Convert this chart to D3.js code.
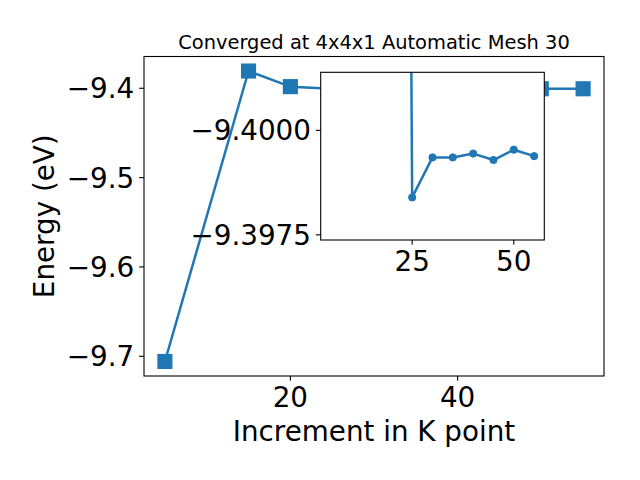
<!DOCTYPE html>
<html>
<head>
<meta charset="utf-8">
<script src="https://cdn.jsdelivr.net/npm/d3@7"></script>
<style>
  html, body { margin: 0; padding: 0; background: #fff; }
  svg { display: block; font-family: "DejaVu Sans", sans-serif; }
</style>
</head>
<body>
<svg id="chart" width="640" height="480"></svg>
<script>
// ---- data ----
const kPoints = [5, 15, 20, 25, 30, 35, 40, 45, 50, 55];
const energies = [-9.7058, -9.3807, -9.3982, -9.400617, -9.400586, -9.400586, -9.400583, -9.400588, -9.400580, -9.400585];
const insetKPoints = [20, 25, 30, 35, 40, 45, 50, 55];
const insetEnergies = [-9.3982, -9.400617, -9.400586, -9.400586, -9.400583, -9.400588, -9.400580, -9.400585];
const mainXTicks = [20, 40];
const mainYTicks = [-9.4, -9.5, -9.6, -9.7];
const insetXTicks = [25, 50];
const insetYDomain = [-9.40065, -9.40052];
const insetYTicks = [-9.400565, -9.400646];
const insetYTickLabels = ["\u22129.4000", "\u22129.3975"];
const titleText = "Converged at 4x4x1 Automatic Mesh 30";
const xLabelText = "Increment in K point";
const yLabelText = "Energy (eV)";

// ---- layout ----
const color = "#1f77b4";
const main = { left: 144, right: 604, top: 56.5, bottom: 376 };
const inset = { left: 320.7, right: 544.3, top: 72.3, bottom: 240 };
const tickLen = 4.86, tickPad = 4.86;
const tickFont = 27.8;
const lw = 2.5;

const svg = d3.select("#chart");
const data = kPoints.map((k, i) => ({ k, e: energies[i] }));
const insetData = insetKPoints.map((k, i) => ({ k, e: insetEnergies[i] }));

function padded(ext) {
  const m = (ext[1] - ext[0]) * 0.05;
  return [ext[0] - m, ext[1] + m];
}
const xDomain = padded(d3.extent(kPoints));
const yDomain = padded(d3.extent(energies));

const x = d3.scaleLinear().domain(xDomain).range([main.left, main.right]);
const y = d3.scaleLinear().domain(yDomain).range([main.bottom, main.top]);

const fmtMain = v => d3.format(".1f")(v).replace("-", "\u2212");

// main line + markers
const line = d3.line().x(d => x(d.k)).y(d => y(d.e));
svg.append("path").datum(data).attr("d", line)
  .attr("fill", "none").attr("stroke", color).attr("stroke-width", lw)
  .attr("stroke-linejoin", "round");
const sq = 13.9;
svg.selectAll("rect.m").data(data).enter().append("rect")
  .attr("x", d => x(d.k) - sq / 2).attr("y", d => y(d.e) - sq / 2)
  .attr("width", sq).attr("height", sq)
  .attr("fill", color).attr("stroke", color).attr("stroke-width", 1.2);

// main frame
svg.append("rect").attr("x", main.left).attr("y", main.top)
  .attr("width", main.right - main.left).attr("height", main.bottom - main.top)
  .attr("fill", "none").attr("stroke", "#000").attr("stroke-width", 1.1);

// main x ticks
const gx = svg.append("g");
mainXTicks.forEach(t => {
  gx.append("line").attr("x1", x(t)).attr("x2", x(t))
    .attr("y1", main.bottom).attr("y2", main.bottom + tickLen)
    .attr("stroke", "#000").attr("stroke-width", 1.1);
  gx.append("text").attr("x", x(t)).attr("y", main.bottom + 30.5)
    .attr("text-anchor", "middle").attr("font-size", tickFont).text(String(t));
});
// main y ticks
const gy = svg.append("g");
mainYTicks.forEach(t => {
  gy.append("line").attr("x1", main.left - tickLen).attr("x2", main.left)
    .attr("y1", y(t)).attr("y2", y(t))
    .attr("stroke", "#000").attr("stroke-width", 1.1);
  gy.append("text").attr("x", main.left - tickLen - tickPad).attr("y", y(t) + 10)
    .attr("text-anchor", "end").attr("font-size", tickFont).text(fmtMain(t));
});

// labels
svg.append("text").attr("x", (main.left + main.right) / 2).attr("y", 48.5)
  .attr("text-anchor", "middle").attr("font-size", 19.44).text(titleText);
svg.append("text").attr("x", (main.left + main.right) / 2).attr("y", 441)
  .attr("text-anchor", "middle").attr("font-size", 27.78).text(xLabelText);
svg.append("text").attr("transform", `translate(54,${(main.top + main.bottom) / 2}) rotate(-90)`)
  .attr("text-anchor", "middle").attr("font-size", 27.78).text(yLabelText);

// ---- inset ----
const xi = d3.scaleLinear().domain(xDomain).range([inset.left, inset.right]);
const yi = d3.scaleLinear().domain(insetYDomain).range([inset.bottom, inset.top]);

svg.append("rect").attr("x", inset.left).attr("y", inset.top)
  .attr("width", inset.right - inset.left).attr("height", inset.bottom - inset.top)
  .attr("fill", "#fff");
svg.append("clipPath").attr("id", "insetClip").append("rect")
  .attr("x", inset.left).attr("y", inset.top)
  .attr("width", inset.right - inset.left).attr("height", inset.bottom - inset.top);
const gi = svg.append("g").attr("clip-path", "url(#insetClip)");
const lineI = d3.line().x(d => xi(d.k)).y(d => yi(d.e));
gi.append("path").datum(insetData).attr("d", lineI)
  .attr("fill", "none").attr("stroke", color).attr("stroke-width", lw)
  .attr("stroke-linejoin", "round");
gi.selectAll("circle").data(insetData).enter().append("circle")
  .attr("cx", d => xi(d.k)).attr("cy", d => yi(d.e)).attr("r", 3.6)
  .attr("fill", color).attr("stroke", color).attr("stroke-width", 1);

svg.append("rect").attr("x", inset.left).attr("y", inset.top)
  .attr("width", inset.right - inset.left).attr("height", inset.bottom - inset.top)
  .attr("fill", "none").attr("stroke", "#000").attr("stroke-width", 1.1);

insetXTicks.forEach(t => {
  svg.append("line").attr("x1", xi(t)).attr("x2", xi(t))
    .attr("y1", inset.bottom).attr("y2", inset.bottom + tickLen)
    .attr("stroke", "#000").attr("stroke-width", 1.1);
  svg.append("text").attr("x", xi(t)).attr("y", inset.bottom + 30.5)
    .attr("text-anchor", "middle").attr("font-size", tickFont).text(t);
});
insetYTicks.forEach((t, i) => {
  svg.append("line").attr("x1", inset.left - tickLen).attr("x2", inset.left)
    .attr("y1", yi(t)).attr("y2", yi(t))
    .attr("stroke", "#000").attr("stroke-width", 1.1);
  svg.append("text").attr("x", inset.left - tickLen - tickPad).attr("y", yi(t) + 10)
    .attr("text-anchor", "end").attr("font-size", tickFont).text(insetYTickLabels[i]);
});
</script>
</body>
</html>
